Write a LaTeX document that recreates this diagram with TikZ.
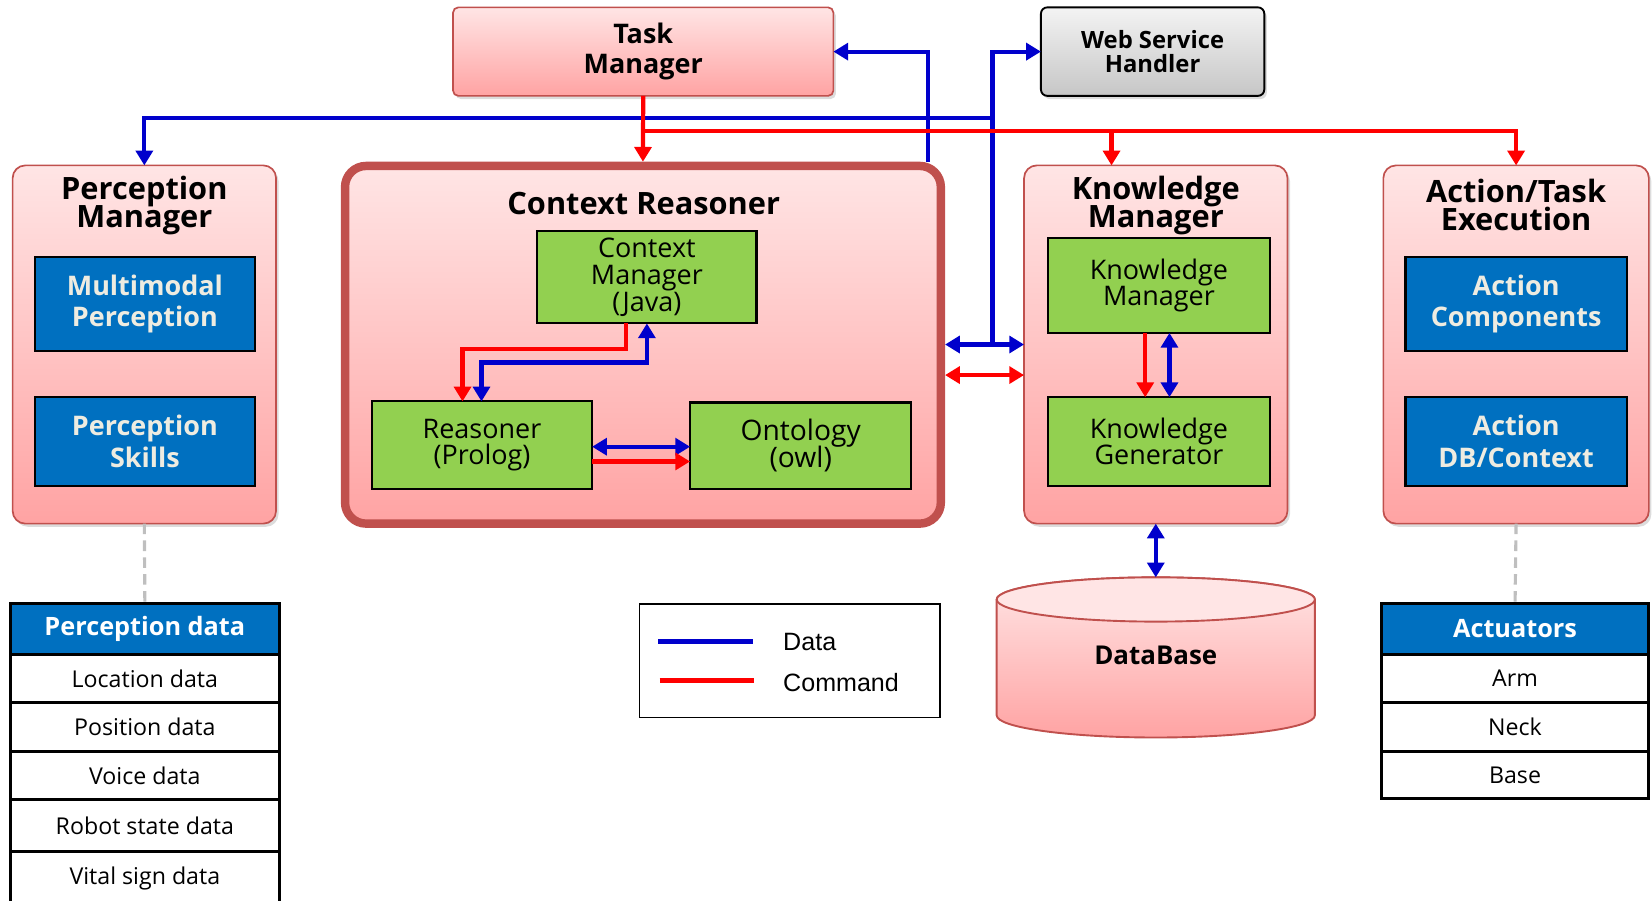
\documentclass[tikz,border=0pt]{standalone}
\usepackage{fontspec}
\setmainfont{Open Sans}
\newfontfamily\legendfont{Liberation Sans}
\usetikzlibrary{arrows.meta,shadows}

\definecolor{dblue}{RGB}{0,0,204}
\definecolor{cred}{RGB}{255,0,0}
\definecolor{pinktop}{RGB}{255,229,229}
\definecolor{pinkbot}{RGB}{255,163,163}
\definecolor{pinkedge}{RGB}{192,80,77}
\definecolor{iblue}{RGB}{0,112,192}
\definecolor{igreen}{RGB}{146,208,80}
\definecolor{cream}{RGB}{238,236,225}
\definecolor{graytop}{RGB}{243,243,243}
\definecolor{graybot}{RGB}{198,198,198}
\definecolor{dashgray}{RGB}{191,191,191}

\newcommand{\myfs}[2]{\fontsize{#1pt}{#2pt}\selectfont\lineskiplimit=-20pt\relax}

\tikzset{
  >={Triangle[length=7pt,width=8pt]},
  box/.style n args={4}{minimum width={(#3-#1)*0.5pt}, minimum height={(#4-#2)*0.5pt},
     at={({(#1+#3)/2},{(#2+#4)/2})}, anchor=center, inner sep=0pt, outer sep=0pt},
  softshadow/.style={drop shadow={shadow xshift=1.2pt,shadow yshift=-1.5pt,opacity=0.28}},
  pinkbox/.style={draw=pinkedge, line width=0.8pt, rounded corners=6pt, top color=pinktop, bottom color=pinkbot, softshadow},
  crbox/.style={draw=pinkedge, line width=4pt, rounded corners=10pt, top color=pinktop, bottom color=pinkbot},
  topbox/.style={draw=pinkedge, line width=0.8pt, rounded corners=2.5pt, top color=pinktop, bottom color=pinkbot, softshadow, align=center, font=\myfs{12.8}{14}\bfseries},
  graybox/.style={draw=black, line width=0.9pt, rounded corners=3pt, top color=graytop, bottom color=graybot, softshadow, align=center, font=\myfs{11.3}{11.2}\bfseries},
  bluebox/.style={draw=black, line width=1pt, fill=iblue, text=cream, align=center, font=\myfs{12.8}{15}\bfseries},
  greenbox/.style={draw=black, line width=1pt, fill=igreen, align=center, font=\myfs{12.8}{12.7}},
  titletext/.style={align=center, inner sep=0pt, font=\myfs{14.6}{13.3}\bfseries},
  dat/.style={draw=dblue, line width=2pt},
  cmd/.style={draw=cred, line width=2pt},
  cell/.style={draw=black, line width=1.4pt, fill=white, font=\myfs{11}{12}},
  hcell/.style={cell, fill=iblue, text=white, font=\myfs{12}{13}\bfseries},
  guide/.style={draw=dashgray, line width=1.5pt, dash pattern=on 5pt off 3pt},
  legline/.style={line width=2.6pt}
}

\begin{document}
\begin{tikzpicture}[x=0.5pt,y=-0.5pt]
\useasboundingbox (0,0) rectangle (1568,855);

% ---------- top boxes ----------
\node[topbox, box={430}{7}{791}{91}] (tm) {Task\\Manager};
\node[graybox, box={988}{7}{1200}{91}] (wsh) {Web Service\\Handler};

% ---------- main modules ----------
\node[pinkbox, box={12}{157}{262}{497}] (pm) {};
\node[crbox, box={327.5}{157.5}{893}{497}, outer sep=2pt] (cr) {};
\node[pinkbox, box={972}{157}{1222}{497}] (km) {};
\node[pinkbox, box={1313}{157}{1565}{497}] (ate) {};

\node[titletext] (pmt) at (137,195) {Perception\\Manager};
\node[titletext] (crt) at (611,193) {Context Reasoner};
\node[titletext] (kmt) at (1097,195) {Knowledge\\Manager};
\node[titletext] (atet) at (1439,195) {Action/Task\\Execution};

% inner boxes
\node[bluebox, box={33}{244}{242}{333}] (pmm) {Multimodal\\Perception};
\node[bluebox, box={33}{377}{242}{461}] (pms) {Perception\\Skills};
\node[bluebox, box={1334}{244}{1544}{333}] (ac) {Action\\Components};
\node[bluebox, box={1334}{377}{1544}{461}] (adb) {Action\\DB/Context};

\node[greenbox, box={510}{219}{718}{307}] (cm) {Context\\Manager\\(Java)};
\node[greenbox, box={353}{381}{562}{464}] (rs) {Reasoner\\(Prolog)};
\node[greenbox, box={655}{382}{865}{464}, font=\myfs{13.4}{13}] (ont) {Ontology\\(owl)};
\node[greenbox, box={995}{226}{1205}{316}] (kmi) {Knowledge\\Manager};
\node[greenbox, box={995}{377}{1205}{461}] (kg) {Knowledge\\Generator};

% ---------- database ----------
\shade[top color=pinktop, bottom color=pinkbot, draw=pinkedge, line width=0.9pt]
  (946,569) -- (946,679) arc[start angle=180, end angle=360, x radius=75.5pt, y radius=10.5pt]
  -- (1248,569) arc[start angle=0, end angle=180, x radius=75.5pt, y radius=10.5pt] -- cycle;
\draw[pinkedge, line width=0.9pt, fill=pinktop] (1097,569) ellipse [x radius=75.5pt, y radius=10.5pt];
\node[inner sep=0pt, font=\myfs{12.3}{13}\bfseries] (db) at (1097,622) {DataBase};
\coordinate (dbtop) at (1097,548);

% ---------- legend ----------
\node[draw=black, line width=0.8pt, box={607}{573}{892}{681}] (legend) {};
\coordinate (l1a) at (625,609); \coordinate (l1b) at (715,609);
\coordinate (l2a) at (626,646); \coordinate (l2b) at (716,646);
\draw[legline, dblue] (l1a) -- (l1b);
\draw[legline, cred] (l2a) -- (l2b);
\node[anchor=west, inner sep=0pt, font=\legendfont\myfs{11.9}{13}] (ldata) at (743,609) {Data};
\node[anchor=west, inner sep=0pt, font=\legendfont\myfs{11.9}{13}] (lcmd) at (743,648) {Command};

% ---------- tables ----------
\node[hcell, box={10}{573}{265}{621}] (pd0) {Perception data};
\node[cell, box={10}{621}{265}{667}] (pd1) {Location data};
\node[cell, box={10}{667}{265}{713}] (pd2) {Position data};
\node[cell, box={10}{713}{265}{759}] (pd3) {Voice data};
\node[cell, box={10}{759}{265}{808}] (pd4) {Robot state data};
\node[cell, box={10}{808}{265}{860}] (pd5) {Vital sign data};

\node[hcell, box={1311}{573}{1565}{621}] (ac0) {Actuators};
\node[cell, box={1311}{621}{1565}{667}] (ac1) {Arm};
\node[cell, box={1311}{667}{1565}{713}] (ac2) {Neck};
\node[cell, box={1311}{713}{1565}{758}] (ac3) {Base};

\draw[guide] (pm.south) -- (pd0.north);
\draw[guide] (ate.south) -- (ac0.north);

% ---------- helper coordinates ----------
\coordinate (xA) at (881,0);
\coordinate (xB) at (942,0);
\coordinate (xK) at (1055,0);
\coordinate (yB) at (0,112);
\coordinate (yR) at (0,124);
\coordinate (yD) at (0,327);
\coordinate (yE) at (0,356);
\coordinate (c1) at (594,331);
\coordinate (c2) at (439,331);
\coordinate (c3) at (614,344);
\coordinate (c4) at (457,344);
\coordinate (r1) at (0,424);
\coordinate (r2) at (0,438);
\coordinate (k1) at (1087,0);
\coordinate (k2) at (1110,0);

% ---------- data (blue) ----------
\draw[dat,->] (xA |- cr.north) -- (xA |- tm.east) -- (tm.east);
\draw[dat,->] (xB |- yD) -- (xB |- wsh.west) -- (wsh.west);
\draw[dat,->] (xB |- yB) -- (pm.north |- yB) -- (pm.north);
\draw[dat,<->] (cr.east |- yD) -- (km.west |- yD);
\draw[dat,<->] (c3 |- cm.south) -- (c3) -- (c4) -- (c4 |- rs.north);
\draw[dat,<->] (rs.east |- r1) -- (ont.west |- r1);
\draw[dat,<->] (k2 |- kmi.south) -- (k2 |- kg.north);
\draw[dat,<->] (km.south) -- (dbtop);

% ---------- command (red) ----------
\draw[cmd,->] (tm.south) -- (cr.north);
\draw[cmd,->] (tm.south |- yR) -- (ate.north |- yR) -- (ate.north);
\draw[cmd,->] (xK |- yR) -- (xK |- km.north);
\draw[cmd,<->] (cr.east |- yE) -- (km.west |- yE);
\draw[cmd,->] (c1 |- cm.south) -- (c1) -- (c2) -- (c2 |- rs.north);
\draw[cmd,->] (rs.east |- r2) -- (ont.west |- r2);
\draw[cmd,->] (k1 |- kmi.south) -- (k1 |- kg.north);
\end{tikzpicture}
\end{document}
